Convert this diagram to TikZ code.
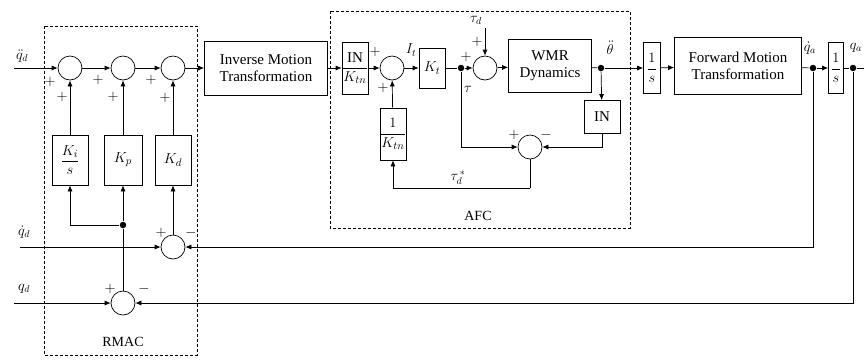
\documentclass[tikz,border=0pt]{standalone}
\usepackage{amsmath}
\usepackage{fontspec}
\setmainfont{Liberation Serif}
\usetikzlibrary{arrows.meta}
\begin{document}
\begin{tikzpicture}[x=1pt,y=-1pt,
  sumc/.style={draw,circle,minimum size=24pt,inner sep=0pt},
  blk/.style={draw,rectangle,inner sep=1pt,font=\fontsize{15}{17}\selectfont,align=center},
  mblk/.style={blk,font=\fontsize{15}{17}\selectfont},
  dotc/.style={circle,fill,inner sep=0pt,minimum size=6.5pt},
  sig/.style={-{Latex[length=6pt,width=5pt]}},
  dbox/.style={draw,line width=0.8pt,dash pattern=on 3pt off 2pt},
  sgn/.style={font=\fontsize{14}{14}\selectfont,inner sep=0pt},
  lab/.style={font=\fontsize{14}{14}\selectfont,inner sep=0pt},
  every path/.style={line width=0.7pt}]
\useasboundingbox (0,0) rectangle (864,360);
% dashed group boxes
\draw[dbox] (44,26) rectangle (197,355);
\draw[dbox] (330,11) rectangle (630,228);
\node[font=\fontsize{14}{16}\selectfont] (rmac) at (123,342) {RMAC};
\node[font=\fontsize{14}{16}\selectfont] (afc) at (478,216) {AFC};
% RMAC
\coordinate (in1) at (14,68);
\node[sumc] (s1) at (70,68) {};
\node[sumc] (s2) at (123,68) {};
\node[sumc] (s3) at (173,68) {};
\node[mblk,minimum width=36pt,minimum height=50pt] (ki) at (70,160) {$\dfrac{K_i}{s}$};
\node[mblk,minimum width=38pt,minimum height=50pt] (kp) at (123,160) {$K_p$};
\node[mblk,minimum width=36pt,minimum height=50pt] (kd) at (173,160) {$K_d$};
\node[sumc] (s4) at (173,247) {};
\node[sumc] (s5) at (123,303) {};
\node[dotc] (d1) at (123,225) {};
\coordinate (in2) at (20,247);
\coordinate (in3) at (14,303);
\node[lab] (lqdd) at (22,56) {$\ddot{q}_d$};
\node[lab] (lqd1) at (24,232) {$\dot{q}_d$};
\node[lab] (lqd0) at (24,289) {$q_d$};
\draw[sig] (in1) -- (s1);
\draw[sig] (s1) -- (s2);
\draw[sig] (s2) -- (s3);
\draw[sig] (ki) -- (s1);
\draw[sig] (kp) -- (s2);
\draw[sig] (kd) -- (s3);
\draw[sig] (s4) -- (kd);
\draw[sig] (d1) -- (kp);
\draw[sig] (d1) -| (ki.south);
\draw (s5) -- (d1);
\draw[sig] (in2) -- (s4);
\draw[sig] (in3) -- (s5);
\node[sgn] (p1a) at (50,82) {$+$};
\node[sgn] (p1b) at (62,97) {$+$};
\node[sgn] (p2a) at (98,80) {$+$};
\node[sgn] (p2b) at (113,97) {$+$};
\node[sgn] (p3a) at (151,80) {$+$};
\node[sgn] (p3b) at (165,98) {$+$};
\node[sgn] (p4a) at (161,233) {$+$};
\node[sgn] (p4b) at (191,233) {$-$};
\node[sgn] (p5a) at (110,289) {$+$};
\node[sgn] (p5b) at (144,289) {$-$};
% inverse motion
\node[blk,minimum width=123pt,minimum height=54pt] (inv) at (266,68) {Inverse Motion\\Transformation};
\draw[sig] (s3) -- (inv);
% AFC
\node[mblk,minimum width=26pt,minimum height=52pt,inner sep=0pt] (ink) at (355,68) {$\dfrac{\mathrm{IN}}{K_{tn}}$};
\node[sumc] (s6) at (392,68) {};
\node[mblk,minimum width=26pt,minimum height=52pt,inner sep=0pt] (k1) at (393,134) {$\dfrac{1}{K_{tn}}$};
\node[mblk,minimum width=26pt,minimum height=40pt] (kt) at (432,68) {$K_t$};
\node[dotc] (dt) at (461,68) {};
\node[sumc] (s7) at (485,68) {};
\coordinate (td) at (485,28);
\node[blk,minimum width=83pt,minimum height=53pt] (wmr) at (550,66) {WMR\\Dynamics};
\node[dotc] (dth) at (601,68) {};
\node[blk,minimum width=36pt,minimum height=33pt] (inb) at (602,117) {IN};
\node[sumc] (s8) at (530,147) {};
\coordinate (c1) at (602,147);
\coordinate (c2) at (530,188);
\draw[sig] (inv) -- (ink);
\draw[sig] (ink) -- (s6);
\draw[sig] (s6) -- (kt);
\draw (kt) -- (dt);
\draw[sig] (dt) -- (s7);
\draw[sig] (td) -- (s7);
\draw[sig] (s7) -- (wmr);
\draw (wmr) -- (dth);
\draw[sig] (dth) -- (inb);
\draw[sig] (dt) |- (s8);
\draw[sig] (inb.south) -- (c1) -- (s8);
\draw (s8) -- (c2);
\draw[sig] (c2) -| (k1.south);
\draw[sig] (k1) -- (s6);
\node[sgn] (p6a) at (375,52) {$+$};
\node[sgn] (p6b) at (383,88) {$+$};
\node[sgn] (p7a) at (466,57) {$+$};
\node[sgn] (p7b) at (477,42) {$+$};
\node[sgn] (p8a) at (514,135) {$+$};
\node[sgn] (p8b) at (546,135) {$-$};
\node[lab] (lit) at (411,50) {$I_t$};
\node[lab] (ltau) at (468,89) {$\tau$};
\node[lab] (ltd) at (476,20) {$\tau_d$};
\node[lab] (ltds) at (458,178) {$\tau_d^{\,*}$};
\node[lab] (lth) at (610,48) {$\ddot{\theta}$};
% forward
\node[mblk,minimum width=17pt,minimum height=51pt,inner sep=0pt] (i1) at (652,68) {$\dfrac{1}{s}$};
\node[blk,minimum width=127pt,minimum height=57pt] (fwd) at (738,66) {Forward Motion\\Transformation};
\node[dotc] (dqa) at (813,68) {};
\node[mblk,minimum width=15pt,minimum height=51pt,inner sep=0pt] (i2) at (836,68) {$\dfrac{1}{s}$};
\node[dotc] (dq) at (853,68) {};
\coordinate (oend) at (864,68);
\node[lab] (lqa1) at (810,48) {$\dot{q}_a$};
\node[lab] (lqa0) at (856,48) {$q_a$};
\draw[sig] (dth) -- (i1);
\draw[sig] (i1) -- (fwd);
\draw (fwd) -- (dqa);
\draw[sig] (dqa) -- (i2);
\draw (i2) -- (dq) -- (oend);
\draw[sig] (dqa) |- (s4);
\draw[sig] (dq) |- (s5);
\end{tikzpicture}
\end{document}
